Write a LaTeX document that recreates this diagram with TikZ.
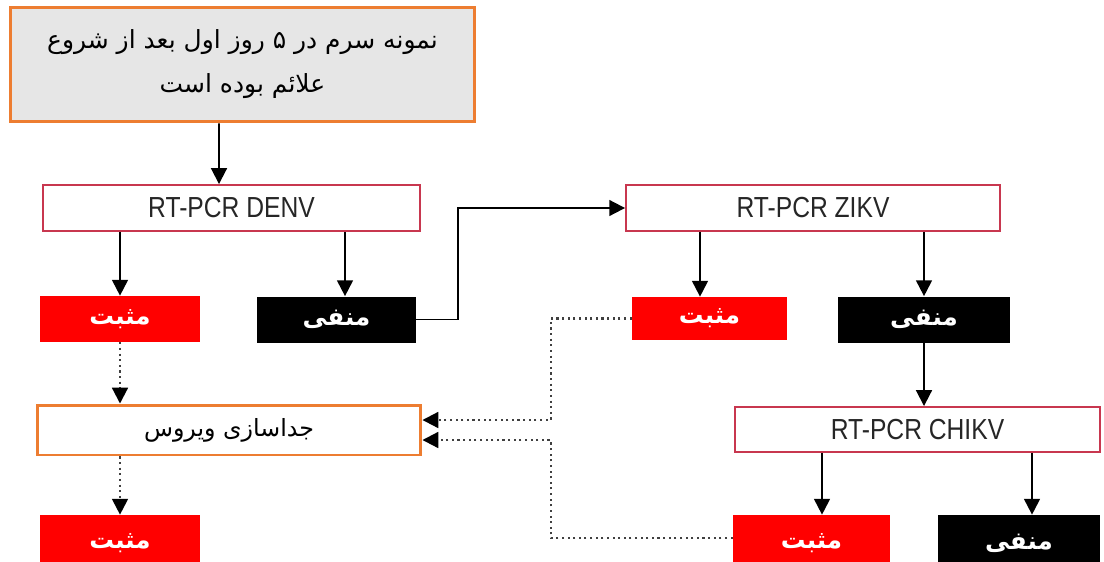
\documentclass[tikz,border=0pt]{standalone}
\usepackage{fontspec}
\setmainfont{Liberation Sans}[FakeStretch=0.85]
\newfontfamily\farsi[Script=Arabic]{DejaVu Sans}
\TeXXeTstate=1
\usetikzlibrary{arrows.meta, positioning}
\definecolor{boxorange}{HTML}{ED7D31}
\definecolor{boxred}{HTML}{C8374F}
\definecolor{boxgray}{HTML}{E6E6E6}
\newcommand{\fa}[1]{{\farsi\beginR #1\endR}}

\begin{document}
\begin{tikzpicture}[x=0.02cm, y=-0.02cm,
  startbox/.style={draw=boxorange, line width=1.7pt, fill=boxgray, minimum width=9.3cm, minimum height=2.3cm, align=center, font=\fontsize{14.2}{25}\selectfont},
  pcrbox/.style={draw=boxred, line width=1.1pt, fill=white, minimum height=0.92cm, text=black!85, font=\fontsize{16.5}{18}\selectfont},
  isobox/.style={draw=boxorange, line width=1.7pt, fill=white, minimum width=7.68cm, minimum height=1cm, font=\fontsize{13.5}{15}\selectfont},
  posbox/.style={fill=red, text=white, minimum height=0.92cm, font=\fontsize{14}{16}\selectfont\bfseries},
  negbox/.style={fill=black, text=white, minimum height=0.92cm, font=\fontsize{14}{16}\selectfont\bfseries},
  flow/.style={line width=1.1pt, -{Triangle[length=9pt, width=9pt]}},
  dotflow/.style={line width=1.2pt, black!75, dotted, -{Triangle[length=9pt, width=9pt, black]}}]
\useasboundingbox (0,0) rectangle (1104,561);

\node[startbox] (start) at (242.5,64.5) {\fa{نمونه سرم در ۵ روز اول بعد از شروع}\\\fa{علائم بوده است}};

\node[pcrbox, minimum width=7.54cm] (denv) at (231.5,208) {RT-PCR DENV};
\node[posbox, minimum width=3.2cm] (denvpos) at (120,319) {\fa{مثبت}};
\node[negbox, minimum width=3.18cm] (denvneg) at (336.5,319.5) {\fa{منفی}};

\node[pcrbox, minimum width=7.48cm] (zikv) at (813,208) {RT-PCR ZIKV};
\node[posbox, minimum width=3.1cm, minimum height=0.86cm] (zikvpos) at (709.5,318.5) {\fa{مثبت}};
\node[negbox, minimum width=3.44cm] (zikvneg) at (924,319.5) {\fa{منفی}};

\node[pcrbox, minimum width=7.3cm, minimum height=0.9cm] (chikv) at (917.5,429.5) {RT-PCR CHIKV};
\node[posbox, minimum width=3.14cm, minimum height=1.12cm] (chikvpos) at (811.5,543) {\fa{مثبت}};
\node[negbox, minimum width=3.24cm, minimum height=1.12cm] (chikvneg) at (1019,543) {\fa{منفی}};

\node[isobox] (iso) at (229,430) {\fa{جداسازی ویروس}};
\node[posbox, minimum width=3.2cm, minimum height=1.12cm] (isopos) at (120,543) {\fa{مثبت}};

% solid arrows
\draw[flow] ([xshift=-0.47cm]start.south) -- ([xshift=-0.25cm]denv.north);
\draw[flow] (denvpos.north |- denv.south) -- (denvpos.north);
\draw[flow] ([xshift=0.17cm]denvneg.north |- denv.south) -- ([xshift=0.17cm]denvneg.north);
\draw[flow] (denvneg.east) -- ++(42,0) |- (zikv.west);
\draw[flow] ([xshift=-0.19cm]zikvpos.north |- zikv.south) -- ([xshift=-0.19cm]zikvpos.north);
\draw[flow] (zikvneg.north |- zikv.south) -- (zikvneg.north);
\draw[flow] (zikvneg.south) -- (zikvneg.south |- chikv.north);
\draw[flow] ([xshift=0.21cm]chikvpos.north |- chikv.south) -- ([xshift=0.21cm]chikvpos.north);
\draw[flow] ([xshift=0.26cm]chikvneg.north |- chikv.south) -- ([xshift=0.26cm]chikvneg.north);

% dotted arrows
\draw[dotflow] (denvpos.south) -- (denvpos.south |- iso.north);
\draw[dotflow] (isopos.north |- iso.south) -- (isopos.north);
\draw[dotflow] (zikvpos.west) -- ++(-81,0) |- ([yshift=0.2cm]iso.east);
\draw[dotflow] (chikvpos.west |- 0,538) -- ++(-182,0) |- ([yshift=-0.2cm]iso.east);
\end{tikzpicture}
\end{document}
